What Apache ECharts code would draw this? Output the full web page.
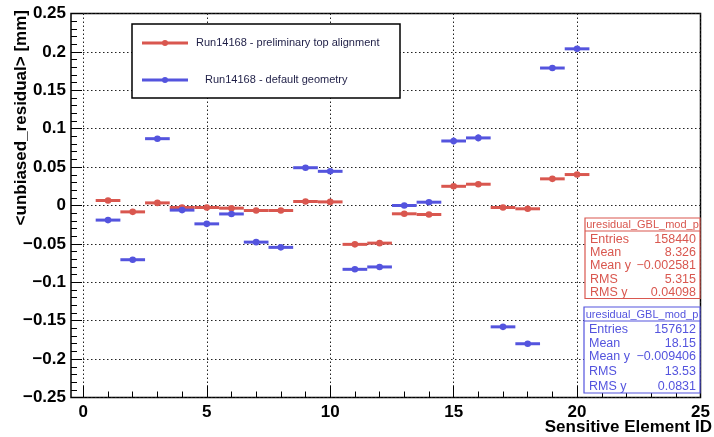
<!DOCTYPE html>
<html>
<head>
<meta charset="utf-8">
<script src="https://cdn.jsdelivr.net/npm/echarts/dist/echarts.min.js"></script>
<style>
html, body { margin: 0; padding: 0; background: #fff; }
#chart { width: 714px; height: 437px; }
</style>
</head>
<body>
<div id="chart"></div>
<script>
// sensitive element ids (bin centres)
var elementIds = [1, 2, 3, 4, 5, 6, 7, 8, 9, 10, 11, 12, 13, 14, 15, 16, 17, 18, 19, 20];
// mean unbiased residual per element [mm]
var alignedMean = [0.0065, -0.0083, 0.0034, -0.0026, -0.0026, -0.0035, -0.0065, -0.0065, 0.0052, 0.0047,
                   -0.0506, -0.0490, -0.0108, -0.0117, 0.0250, 0.0277, -0.0026, -0.0043, 0.0347, 0.0403];
var alignedErr  = [0.0015, 0.0015, 0.0015, 0.0015, 0.0015, 0.0015, 0.0015, 0.0015, 0.0015, 0.0015,
                   0.0015, 0.0015, 0.0015, 0.0015, 0.0020, 0.0020, 0.0015, 0.0015, 0.0020, 0.0020];
var defaultMean = [-0.0190, -0.0706, 0.0870, -0.0060, -0.0239, -0.0110, -0.0477, -0.0545, 0.0492, 0.0445,
                   -0.0831, -0.0800, 0.0000, 0.0043, 0.0840, 0.0880, -0.1580, -0.1800, 0.1790, 0.2040];
var defaultErr  = [0.0015, 0.0015, 0.0015, 0.0015, 0.0015, 0.0015, 0.0015, 0.0015, 0.0015, 0.0015,
                   0.0015, 0.0015, 0.0020, 0.0025, 0.0045, 0.0045, 0.0015, 0.0015, 0.0015, 0.0020];

var legendNames = ['Run14168 - preliminary top alignment', ' Run14168 - default geometry'];
var statTitle = 'uresidual_GBL_mod_p';
var statNames = ['Entries', 'Mean', 'Mean y', 'RMS', 'RMS y'];
var alignedStats = ['158440', '8.326', '\u22120.002581', '5.315', '0.04098'];
var defaultStats = ['157612', '18.15', '\u22120.009406', '13.53', '0.0831'];

var RED = '#d9574f';
var BLUE = '#5454de';
var FONT = '"Liberation Sans", Arial, Helvetica, sans-serif';

var xMin = -0.5, xMax = 25;
var gLeft = 71, gRight = 13.5, gTop = 13.5, gBottom = 39.5;
var unit = (714 - gLeft - gRight) / (xMax - xMin);

function toRows(ids, mean, err) {
    return ids.map(function (id, i) { return [id, mean[i], err[i]]; });
}

function errorItem(color) {
    return function (params, api) {
        var x = api.value(0), y = api.value(1), e = api.value(2);
        var l = api.coord([x - 0.5, y]);
        var r = api.coord([x + 0.5, y]);
        var t = api.coord([x, y + e]);
        var b = api.coord([x, y - e]);
        return {
            type: 'group',
            children: [
                { type: 'line', shape: { x1: l[0], y1: l[1], x2: r[0], y2: r[1] }, style: { stroke: color, lineWidth: 3 } },
                { type: 'line', shape: { x1: t[0], y1: t[1], x2: b[0], y2: b[1] }, style: { stroke: color, lineWidth: 2 } },
                { type: 'circle', shape: { cx: l[0] + (r[0] - l[0]) / 2, cy: l[1], r: 3.3 }, style: { fill: color } }
            ]
        };
    };
}

function statBox(x, y, w, rowY, bottom, sepY, color, values) {
    var els = [
        { type: 'rect', shape: { x: x, y: y, width: w, height: bottom - y },
          style: { fill: '#fff', stroke: color, lineWidth: 1.2 }, z: 100 },
        { type: 'line', shape: { x1: x, y1: sepY, x2: x + w, y2: sepY },
          style: { stroke: color, lineWidth: 1.2 }, z: 101 },
        { type: 'text', x: x + w / 2, y: y + (sepY - y) / 2 + 0.5, z: 101,
          style: { text: statTitle, fill: color, font: '11px ' + FONT, align: 'center', verticalAlign: 'middle' } }
    ];
    statNames.forEach(function (n, i) {
        els.push({ type: 'text', x: x + 5, y: rowY[i], z: 101,
            style: { text: n, fill: color, font: '12.5px ' + FONT, align: 'left', verticalAlign: 'middle' } });
        els.push({ type: 'text', x: x + w - 4, y: rowY[i], z: 101,
            style: { text: values[i], fill: color, font: '12.5px ' + FONT, align: 'right', verticalAlign: 'middle' } });
    });
    return els;
}

function yLabel(v) {
    var s = String(parseFloat(Math.abs(v).toFixed(3)));
    return (v < -1e-9 ? '\u2212' : '') + s;
}

var chart = echarts.init(document.getElementById('chart'));

var graphics = [
    // y title
    { type: 'text', x: 21, y: 10, rotation: Math.PI / 2, z: 100,
      style: { text: '<unbiased_residual> [mm]', fill: '#000', font: 'bold 17px ' + FONT, align: 'right', verticalAlign: 'middle' } },
    // x title
    { type: 'text', x: 712, y: 427, z: 100,
      style: { text: 'Sensitive Element ID', fill: '#000', font: 'bold 17px ' + FONT, align: 'right', verticalAlign: 'middle' } },
    // legend
    { type: 'rect', shape: { x: 132, y: 24, width: 268, height: 74 },
      style: { fill: '#fff', stroke: '#000', lineWidth: 1.5 }, z: 100 },
    { type: 'line', shape: { x1: 142, y1: 43, x2: 188, y2: 43 }, style: { stroke: RED, lineWidth: 3 }, z: 101 },
    { type: 'circle', shape: { cx: 165, cy: 43, r: 3 }, style: { fill: RED }, z: 101 },
    { type: 'text', x: 196, y: 43, z: 101,
      style: { text: legendNames[0], fill: '#1e1e46', font: '11px ' + FONT, align: 'left', verticalAlign: 'middle' } },
    { type: 'line', shape: { x1: 142, y1: 80, x2: 188, y2: 80 }, style: { stroke: BLUE, lineWidth: 3 }, z: 101 },
    { type: 'circle', shape: { cx: 165, cy: 80, r: 3 }, style: { fill: BLUE }, z: 101 },
    { type: 'text', x: 202, y: 80, z: 101,
      style: { text: legendNames[1], fill: '#1e1e46', font: '11px ' + FONT, align: 'left', verticalAlign: 'middle' } }
]
.concat(statBox(585, 218, 115, [240, 253, 266, 279.5, 293], 298.5, 231, RED, alignedStats))
.concat(statBox(584, 307, 116, [329.5, 343.5, 357, 372, 387], 393, 321, BLUE, defaultStats));

var option = {
    animation: false,
    backgroundColor: '#fff',
    grid: [
        { left: gLeft, right: gRight, top: gTop, bottom: gBottom, show: true,
          borderColor: '#000', borderWidth: 1.5, backgroundColor: 'transparent' },
        { left: gLeft + (0 - xMin) * unit, right: gRight, top: gTop, bottom: gBottom }
    ],
    xAxis: [
        { type: 'value', gridIndex: 0, min: xMin, max: xMax, show: false },
        { type: 'value', gridIndex: 1, min: 0, max: 25, interval: 5, position: 'bottom',
          axisLine: { show: false, onZero: false },
          axisTick: { show: true, inside: true, length: 12, lineStyle: { color: '#000', width: 1 } },
          minorTick: { show: true, splitNumber: 5, length: 6, lineStyle: { color: '#000', width: 1 } },
          splitLine: { show: true, lineStyle: { color: '#222', width: 1, type: [1.5, 2.5] } },
          axisLabel: { color: '#000', fontFamily: FONT, fontWeight: 'bold', fontSize: 17, margin: 6 } }
    ],
    yAxis: [
        { type: 'value', gridIndex: 0, min: -0.25, max: 0.25, interval: 0.05,
          axisLine: { show: false, onZero: false },
          axisTick: { show: true, inside: true, length: 11, lineStyle: { color: '#000', width: 1 } },
          minorTick: { show: true, splitNumber: 5, length: 6, lineStyle: { color: '#000', width: 1 } },
          splitLine: { show: true, lineStyle: { color: '#222', width: 1, type: [1.5, 2.5] } },
          axisLabel: { color: '#000', fontFamily: FONT, fontWeight: 'bold', fontSize: 17, margin: 5,
                       formatter: yLabel } },
        { type: 'value', gridIndex: 1, min: -0.25, max: 0.25, show: false }
    ],
    graphic: graphics,
    series: [
        { type: 'custom', name: 'aligned', xAxisIndex: 0, yAxisIndex: 0, z: 5,
          renderItem: errorItem(RED), data: toRows(elementIds, alignedMean, alignedErr) },
        { type: 'custom', name: 'default', xAxisIndex: 0, yAxisIndex: 0, z: 6,
          renderItem: errorItem(BLUE), data: toRows(elementIds, defaultMean, defaultErr) }
    ]
};

chart.setOption(option);
</script>
</body>
</html>
